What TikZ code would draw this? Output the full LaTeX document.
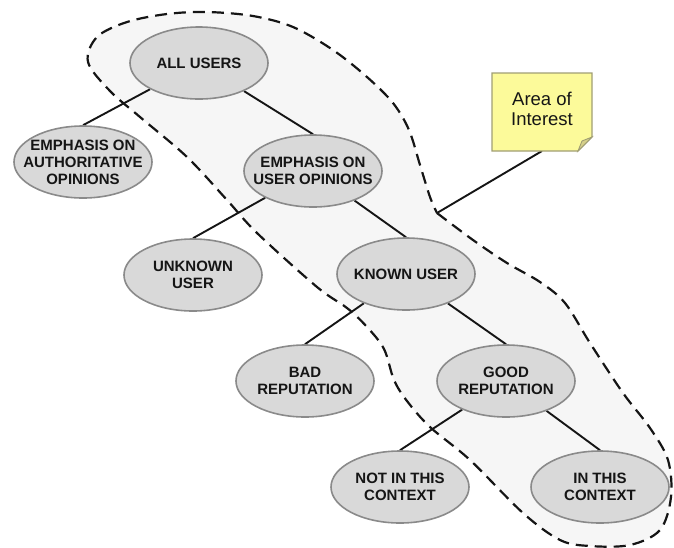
\documentclass[tikz,border=0pt]{standalone}
\usepackage{fontspec}
\setmainfont{Liberation Sans}
\usetikzlibrary{shapes.geometric}
\pgfdeclarelayer{bg}
\pgfsetlayers{bg,main}
\definecolor{nodefill}{HTML}{D9D9D9}
\definecolor{nodeline}{HTML}{8A8A8A}
\definecolor{areafill}{HTML}{F6F6F6}
\definecolor{notefill}{HTML}{FCFA9A}
\definecolor{noteline}{HTML}{A09E74}
\definecolor{notefold}{HTML}{D6D08A}
\definecolor{ink}{HTML}{151515}
\tikzset{
  choice/.style={ellipse, draw=nodeline, fill=nodefill, line width=1.6pt,
    minimum width=138pt, minimum height=72pt, inner xsep=-16pt, inner ysep=-8pt,
    align=center, text=ink, font=\fontsize{15}{17}\selectfont\bfseries},
  branch/.style={draw=ink, line width=1.9pt},
  arealine/.style={draw=ink, line width=2.2pt, dash pattern=on 12pt off 7pt, fill=areafill},
  notetext/.style={align=center, text=ink, font=\fontsize{18.5}{20}\selectfont},
}
\begin{document}
\begin{tikzpicture}[x=1pt,y=-1pt]
\useasboundingbox (0,0) rectangle (674,547);

% decision tree
\node[choice] (all)     at (199,63)  {ALL USERS};
\node[choice] (auth)    at (83,162)  {EMPHASIS ON\\AUTHORITATIVE\\OPINIONS};
\node[choice] (opin)    at (313,171) {EMPHASIS ON\\USER OPINIONS};
\node[choice] (unknown) at (193,275) {UNKNOWN\\USER};
\node[choice] (known)   at (406,274) {KNOWN USER};
\node[choice] (bad)     at (305,381) {BAD\\REPUTATION};
\node[choice] (good)    at (506,381) {GOOD\\REPUTATION};
\node[choice] (notctx)  at (400,487) {NOT IN THIS\\CONTEXT};
\node[choice] (inctx)   at (600,487) {IN THIS\\CONTEXT};

% sticky note
\node[notetext] (note) at (542,109) {Area of\\Interest};
\coordinate (notebot) at (542,151);
\coordinate (aoi) at (437,213);

\begin{pgfonlayer}{bg}
  % highlighted region
  \path[arealine] plot[smooth, tension=0.55] coordinates {
    (437,213) (473,240) (507,263) (540,282) (565,303) (590,343) (623,393)
    (650,428) (668,460) (671,497) (660,530) (630,545) (590,546) (560,540)
    (523,513) (470,460) (430,427) (407,401) (394,380) (384,349) (367,327)
    (347,308) (317,287) (257,233) (227,200) (187,157) (140,117) (110,91)
    (88,62) (97,37) (127,22) (167,14) (207,12) (253,16) (293,27) (333,50)
    (367,77) (393,103) (409,130) (420,165) (430,197) (437,213)};
  % branches
  \draw[branch] (all)   -- (auth.north);
  \draw[branch] (all)   -- (opin.north);
  \draw[branch] (opin)  -- (unknown.north);
  \draw[branch] (opin)  -- (known.north);
  \draw[branch] (known) -- (bad.north);
  \draw[branch] (known) -- (good.north);
  \draw[branch] (good)  -- (notctx.north);
  \draw[branch] (good)  -- (inctx.north);
  % callout
  \draw[branch] (notebot) -- (aoi);
  % note paper with folded corner
  \filldraw[fill=notefill, draw=noteline, line width=1.2pt]
    (492,73) -- (592,73) -- (592,137) -- (578,151) -- (492,151) -- cycle;
  \filldraw[fill=notefold, draw=noteline, line width=0.9pt]
    (592,137) -- (582,141) -- (578,151) -- cycle;
\end{pgfonlayer}
\end{tikzpicture}
\end{document}
